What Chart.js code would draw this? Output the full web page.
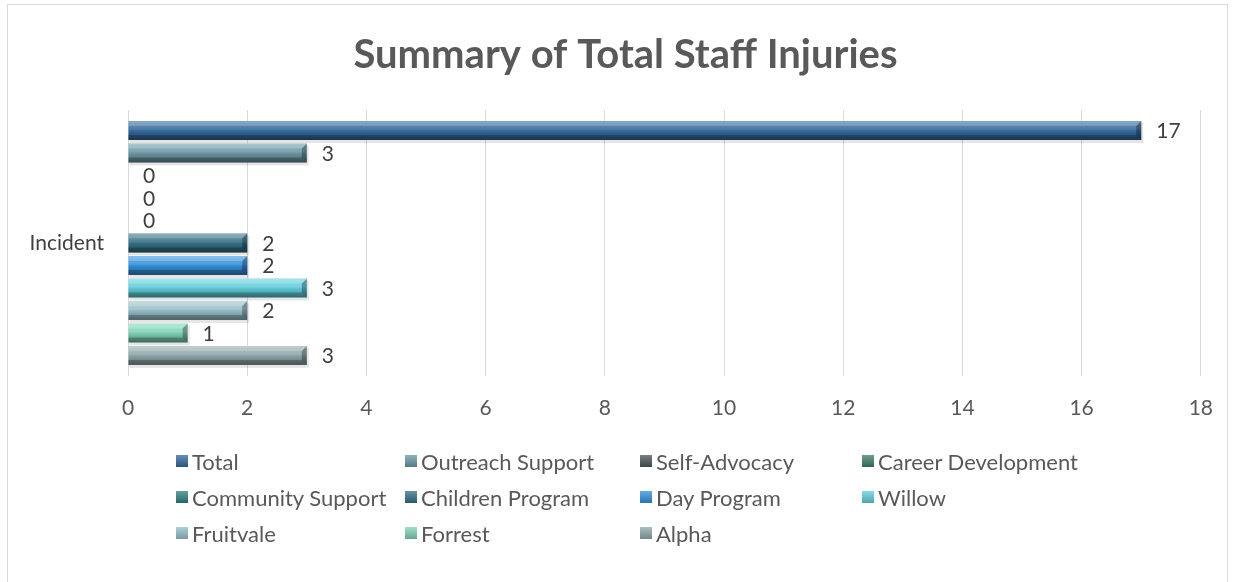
<!DOCTYPE html>
<html>
<head>
<meta charset="utf-8">
<script src="https://cdn.jsdelivr.net/npm/chart.js@4/dist/chart.umd.min.js"></script>
<style>
  html, body { margin: 0; padding: 0; background: #fff; }
  #wrap { position: relative; width: 1233px; height: 582px; overflow: hidden; font-family: Lato, "Open Sans", sans-serif; }
  #frame { position: absolute; left: 7px; top: 4px; width: 1221px; height: 600px; border: 1.5px solid #d9d9d9; box-sizing: border-box; }
  canvas { position: absolute; left: 0; top: 0; }
  #legend { position: absolute; left: 0; top: 0; width: 1233px; height: 582px; pointer-events: none; }
  .li { position: absolute; display: flex; align-items: center; height: 26px; font-size: 22px; color: #595959; white-space: nowrap; }
  .sw { width: 12px; height: 12px; margin-right: 4px; box-sizing: border-box; }
</style>
</head>
<body>
<div id="wrap">
  <div id="frame"></div>
  <canvas id="c" width="1233" height="582"></canvas>
  <div id="legend"></div>
</div>
<script>
const categories = ["Incident"];
const seriesNames = ["Total", "Outreach Support", "Self-Advocacy", "Career Development", "Community Support", "Children Program", "Day Program", "Willow", "Fruitvale", "Forrest", "Alpha"];
const seriesValues = [[17], [3], [0], [0], [0], [2], [2], [3], [2], [1], [3]];
const seriesColors = ["#33699C", "#6B98A5", "#4B5658", "#3E7D6B", "#2F7E80", "#356F85", "#3390DA", "#62CEDB", "#98BFCA", "#80D3B6", "#8FA8AA"];
const xTicks = [0, 2, 4, 6, 8, 10, 12, 14, 16, 18];
const chartTitle = "Summary of Total Staff Injuries";

const datasets = seriesNames.map((n, i) => ({
  label: n,
  data: seriesValues[i],
  backgroundColor: seriesColors[i],
  borderWidth: 0
}));

const titleShift = {
  id: 'titleShift',
  afterLayout(chart) {
    if (chart.titleBlock) { chart.titleBlock.left = 50; }
  }
};

const bevelPlugin = {
  id: 'bevel',
  beforeDatasetsDraw(chart) {
    const ctx = chart.ctx;
    chart.data.datasets.forEach((ds, di) => {
      const meta = chart.getDatasetMeta(di);
      meta.data.forEach((bar) => {
        const w = bar.x - bar.base;
        if (w <= 0.5) return;
        const h = bar.height, top = bar.y - h / 2;
        ctx.save();
        ctx.fillStyle = 'rgba(0,0,0,0.10)';
        ctx.fillRect(bar.base + 1, top + 2, w + 1, h + 1);
        ctx.restore();
      });
    });
  },
  afterDatasetsDraw(chart) {
    const ctx = chart.ctx;
    chart.data.datasets.forEach((ds, di) => {
      const meta = chart.getDatasetMeta(di);
      meta.data.forEach((bar) => {
        const w = bar.x - bar.base;
        if (w <= 0.5) return;
        const h = bar.height, top = bar.y - h / 2, bot = bar.y + h / 2;
        ctx.save();
        const g = ctx.createLinearGradient(0, top, 0, bot);
        g.addColorStop(0, 'rgba(255,255,255,0.30)');
        g.addColorStop(0.45, 'rgba(255,255,255,0.10)');
        g.addColorStop(0.55, 'rgba(0,0,0,0.05)');
        g.addColorStop(1, 'rgba(0,0,0,0.35)');
        ctx.fillStyle = g;
        ctx.fillRect(bar.base, top, w, h);
        const b = 5;
        ctx.fillStyle = 'rgba(0,0,0,0.30)';
        ctx.beginPath();
        ctx.moveTo(bar.x - b, top + b);
        ctx.lineTo(bar.x, top);
        ctx.lineTo(bar.x, bot);
        ctx.lineTo(bar.x - b, bot - b);
        ctx.closePath();
        ctx.fill();
        ctx.fillStyle = 'rgba(255,255,255,0.18)';
        ctx.beginPath();
        ctx.moveTo(bar.base, top);
        ctx.lineTo(bar.x, top);
        ctx.lineTo(bar.x - b, top + b);
        ctx.lineTo(bar.base, top + b);
        ctx.closePath();
        ctx.fill();
        ctx.fillStyle = 'rgba(0,0,0,0.22)';
        ctx.beginPath();
        ctx.moveTo(bar.base, bot);
        ctx.lineTo(bar.x, bot);
        ctx.lineTo(bar.x - b, bot - b);
        ctx.lineTo(bar.base, bot - b);
        ctx.closePath();
        ctx.fill();
        ctx.restore();
      });
    });
  }
};

const labelPlugin = {
  id: 'valueLabels',
  afterDatasetsDraw(chart) {
    const ctx = chart.ctx;
    ctx.save();
    ctx.font = '21px Lato, "Open Sans", sans-serif';
    ctx.fillStyle = '#404040';
    ctx.textAlign = 'left';
    ctx.textBaseline = 'middle';
    chart.data.datasets.forEach((ds, di) => {
      const meta = chart.getDatasetMeta(di);
      meta.data.forEach((bar, j) => {
        ctx.fillText(String(ds.data[j]), bar.x + 15, bar.y + 1);
      });
    });
    ctx.restore();
  }
};

const chart = new Chart(document.getElementById('c'), {
  type: 'bar',
  data: { labels: categories, datasets },
  options: {
    indexAxis: 'y',
    responsive: false,
    animation: false,
    devicePixelRatio: 1,
    layout: { padding: { left: 0, right: 32, top: 0, bottom: 0 } },
    datasets: { bar: { categoryPercentage: 0.93, barPercentage: 0.84 } },
    scales: {
      x: {
        min: xTicks[0], max: xTicks[xTicks.length - 1],
        afterBuildTicks(scale) { scale.ticks = xTicks.map(v => ({ value: v })); },
        afterFit(scale) { scale.height = 206; },
        grid: { color: '#d9d9d9', drawTicks: false, lineWidth: 1 },
        border: { display: false },
        ticks: { color: '#595959', font: { family: 'Lato', size: 21 }, padding: 20 }
      },
      y: {
        afterFit(scale) { scale.width = 128; },
        grid: { display: false, drawTicks: false },
        border: { display: false },
        ticks: { color: '#404040', font: { family: 'Lato', size: 21 }, padding: 24 }
      }
    },
    plugins: {
      legend: { display: false },
      tooltip: { enabled: false },
      title: {
        display: true,
        text: chartTitle,
        color: '#595959',
        font: { family: 'Lato', size: 40, weight: 'bold' },
        padding: { top: 31, bottom: 31 }
      }
    }
  },
  plugins: [titleShift, bevelPlugin, labelPlugin]
});

const legendCols = [176, 405, 640, 862];
const legendRows = [461, 497, 533];
const lg = document.getElementById('legend');
seriesNames.forEach((n, i) => {
  const r = Math.floor(i / 4), c = i % 4;
  const d = document.createElement('div');
  d.className = 'li';
  d.style.left = legendCols[c] + 'px';
  d.style.top = (legendRows[r] - 13) + 'px';
  const s = document.createElement('span');
  s.className = 'sw';
  s.style.background = 'linear-gradient(180deg, rgba(255,255,255,0.25), rgba(0,0,0,0.2)), ' + seriesColors[i];
  s.style.backgroundColor = seriesColors[i];
  const t = document.createElement('span');
  t.textContent = n;
  d.appendChild(s); d.appendChild(t);
  lg.appendChild(d);
});
</script>
</body>
</html>
